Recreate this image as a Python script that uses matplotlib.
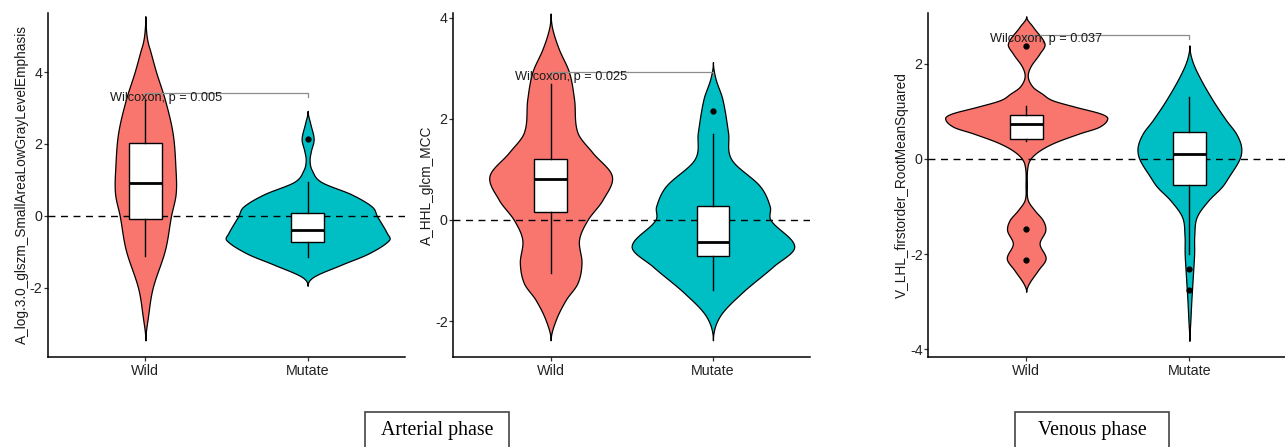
import matplotlib
matplotlib.use("Agg")
import matplotlib.pyplot as plt
import numpy as np
from matplotlib.patches import Rectangle

plt.rcParams["font.family"] = ["Liberation Sans", "DejaVu Sans"]
plt.rcParams["axes.unicode_minus"] = False

groups = ["Wild", "Mutate"]
colors = ["#F8766D", "#00BFC4"]

# ---- panel 1: A_log.3.0_glszm_SmallAreaLowGrayLevelEmphasis
p1_label = "A_log.3.0_glszm_SmallAreaLowGrayLevelEmphasis"
p1_wild_y = [5.55, 5.07, 4.8, 4.6, 4.0, 3.22, 2.3, 1.37, 0.63, 0.0, -0.94, -2.0, -2.8, -3.46]
p1_wild_w = [0.0, 0.006, 0.016, 0.029, 0.066, 0.121, 0.168, 0.185, 0.187, 0.158, 0.121, 0.045, 0.016, 0.0]
p1_mut_y = [2.92, 2.57, 2.14, 1.8, 1.55, 1.28, 0.95, 0.6, 0.26, 0.0, -0.48, -0.67, -1.04, -1.35, -1.69, -1.94]
p1_mut_w = [0.0, 0.016, 0.037, 0.02, 0.012, 0.025, 0.082, 0.27, 0.396, 0.427, 0.489, 0.501, 0.376, 0.21, 0.037, 0.0]
p1_box = [
    dict(med=0.91, q1=-0.08, q3=2.04, whislo=-1.11, whishi=3.22, fliers=[]),
    dict(med=-0.38, q1=-0.73, q3=0.07, whislo=-1.13, whishi=0.95, fliers=[2.14]),
]
p1_test = "Wilcoxon, p = 0.005"
p1_bracket = 3.41
p1_ylim = (-3.92, 5.64)
p1_ticks = [-2, 0, 2, 4]

# ---- panel 2: A_HHL_glcm_MCC
p2_label = "A_HHL_glcm_MCC"
p2_wild_y = [4.08, 3.78, 3.38, 2.92, 2.39, 1.73, 1.33, 0.87, 0.4, 0.0, -0.39, -0.85, -1.25, -1.58, -1.98, -2.38]
p2_wild_w = [0.0, 0.01, 0.05, 0.113, 0.144, 0.165, 0.258, 0.377, 0.32, 0.227, 0.175, 0.19, 0.165, 0.093, 0.031, 0.0]
p2_mut_y = [3.12, 2.79, 2.39, 1.73, 1.2, 0.67, 0.27, 0.0, -0.52, -0.92, -1.45, -1.91, -2.38]
p2_mut_w = [0.0, 0.016, 0.058, 0.093, 0.113, 0.289, 0.35, 0.355, 0.501, 0.371, 0.175, 0.041, 0.0]
p2_box = [
    dict(med=0.8, q1=0.16, q3=1.2, whislo=-1.05, whishi=2.69, fliers=[]),
    dict(med=-0.44, q1=-0.72, q3=0.27, whislo=-1.38, whishi=1.7, fliers=[2.16]),
]
p2_test = "Wilcoxon, p = 0.025"
p2_bracket = 2.92
p2_ylim = (-2.71, 4.09)
p2_ticks = [-2, 0, 2, 4]

# ---- panel 3: V_LHL_firstorder_RootMeanSquared
p3_label = "V_LHL_firstorder_RootMeanSquared"
p3_wild_y = [2.99, 2.77, 2.42, 2.21, 1.93, 1.72, 1.51, 1.37, 1.23, 1.09, 0.95, 0.85, 0.67, 0.53, 0.32, 0.11, -0.1,
             -0.59, -0.87, -1.08, -1.29, -1.5, -1.78, -2.09, -2.34, -2.62, -2.79]
p3_wild_w = [0.0, 0.041, 0.112, 0.082, 0.025, 0.01, 0.04, 0.096, 0.16, 0.302, 0.456, 0.497, 0.446, 0.323, 0.16, 0.057, 0.012,
             0.004, 0.01, 0.051, 0.102, 0.117, 0.082, 0.119, 0.072, 0.016, 0.0]
p3_mut_y = [2.38, 2.07, 1.72, 1.23, 0.81, 0.53, 0.25, 0.0, -0.38, -0.59, -0.87, -1.22, -1.6, -1.99, -2.41, -2.97, -3.39, -3.82]
p3_mut_w = [0.0, 0.016, 0.061, 0.143, 0.225, 0.286, 0.317, 0.307, 0.24, 0.198, 0.117, 0.045, 0.03, 0.029, 0.022, 0.012, 0.006, 0.0]
p3_box = [
    dict(med=0.74, q1=0.41, q3=0.92, whislo=0.38, whishi=1.1, fliers=[2.37, -1.48, -2.13]),
    dict(med=0.1, q1=-0.54, q3=0.56, whislo=-1.99, whishi=1.29, fliers=[-2.31, -2.76]),
]
p3_test = "Wilcoxon, p = 0.037"
p3_bracket = 2.6
p3_ylim = (-4.16, 3.06)
p3_ticks = [-4, -2, 0, 2]

phase_labels = ["Arterial phase", "Venous phase"]


def smooth_profile(ys, ws, n=24):
    # cubic Hermite through the read-off density profile
    ys = np.asarray(ys, float)
    ws = np.asarray(ws, float)
    m = np.zeros_like(ws)
    m[1:-1] = (ws[2:] - ws[:-2]) / (ys[2:] - ys[:-2])
    out_y, out_w = [], []
    for i in range(len(ys) - 1):
        t = np.linspace(0, 1, n, endpoint=False)
        h = ys[i + 1] - ys[i]
        h00 = 2 * t**3 - 3 * t**2 + 1
        h10 = t**3 - 2 * t**2 + t
        h01 = -2 * t**3 + 3 * t**2
        h11 = t**3 - t**2
        out_y.append(ys[i] + t * h)
        out_w.append(h00 * ws[i] + h10 * h * m[i] + h01 * ws[i + 1] + h11 * h * m[i + 1])
    out_y.append([ys[-1]])
    out_w.append([ws[-1]])
    return np.concatenate(out_y), np.clip(np.concatenate(out_w), 0, None)


def draw_panel(ax, profiles, boxes, ylabel, test, bracket, ylim, ticks):
    ax.axhline(0, color="black", lw=1.0, ls=(0, (5, 4)), zorder=1)
    for i, (ys, ws) in enumerate(profiles):
        x0 = i + 1
        yy, ww = smooth_profile(ys, ws)
        ax.fill_betweenx(yy, x0 - ww, x0 + ww, facecolor=colors[i],
                         edgecolor="black", lw=0.9, zorder=2)
    for b in boxes:
        b["label"] = ""
    ax.bxp(boxes, positions=[1, 2], widths=0.2, showfliers=True, showcaps=False,
           patch_artist=True,
           boxprops=dict(facecolor="white", edgecolor="black", lw=1.0),
           medianprops=dict(color="black", lw=2.0),
           whiskerprops=dict(color="black", lw=1.0),
           flierprops=dict(marker="o", markersize=3.5, markerfacecolor="black",
                           markeredgecolor="black"),
           zorder=3)
    for art in ax.lines + ax.patches:
        art.set_zorder(3)
    leg = 0.14 * (bracket - ylim[0]) / 10
    ax.plot([1, 1, 2, 2], [bracket - leg, bracket, bracket, bracket - leg],
            color="#8c8c8c", lw=0.9, zorder=4)
    ax.text(0.78, bracket - 0.12 * (ylim[1] - ylim[0]) / 9.5, test, ha="left",
            va="center", fontsize=9.2, color="#1a1a1a", zorder=5)
    ax.set_xlim(0.4, 2.6)
    ax.set_ylim(*ylim)
    ax.set_xticks([1, 2])
    ax.set_xticklabels(groups)
    ax.set_yticks(ticks)
    ax.set_ylabel(ylabel, fontsize=9.8, labelpad=0.5, color="#1a1a1a")
    for s in ["top", "right"]:
        ax.spines[s].set_visible(False)
    for s in ["left", "bottom"]:
        ax.spines[s].set_linewidth(1.1)
    ax.tick_params(axis="both", labelsize=10.3, length=3, width=0.9, pad=2,
                   colors="#333333", labelcolor="#222222")
    ax.tick_params(axis="y", pad=1)


fig = plt.figure(figsize=(12.85, 4.47), dpi=100)
W, H = 1285, 447
bottom = (H - 357) / H
height = 344 / H
ax1 = fig.add_axes([48 / W, bottom, 357 / W, height])
ax2 = fig.add_axes([453.3 / W, bottom, 357 / W, height])
ax3 = fig.add_axes([928.3 / W, bottom, 359 / W, height])

draw_panel(ax1, [(p1_wild_y, p1_wild_w), (p1_mut_y, p1_mut_w)], p1_box, p1_label,
           p1_test, p1_bracket, p1_ylim, p1_ticks)
draw_panel(ax2, [(p2_wild_y, p2_wild_w), (p2_mut_y, p2_mut_w)], p2_box, p2_label,
           p2_test, p2_bracket, p2_ylim, p2_ticks)
draw_panel(ax3, [(p3_wild_y, p3_wild_w), (p3_mut_y, p3_mut_w)], p3_box, p3_label,
           p3_test, p3_bracket, p3_ylim, p3_ticks)

# phase captions in open boxes at the bottom
for label, (x0, x1) in zip(phase_labels, [(365, 509), (1015, 1169)]):
    fig.patches.append(Rectangle((x0 / W, -0.05), (x1 - x0) / W, (447 - 411.7) / H + 0.05,
                                 transform=fig.transFigure, facecolor="white",
                                 edgecolor="#444444", lw=1.2))
    fig.text((x0 + x1) / 2 / W, (447 - 431) / H, label, ha="center", va="center",
             fontsize=14.3, family=["Liberation Serif", "DejaVu Serif"])

fig.savefig("out.png", dpi=100)
